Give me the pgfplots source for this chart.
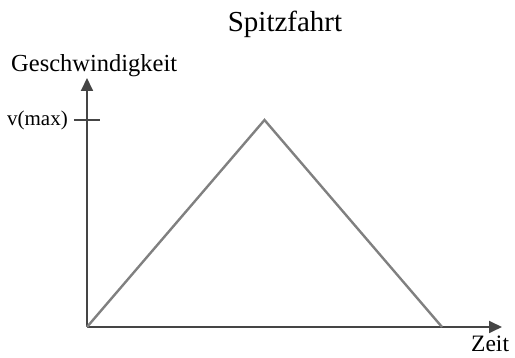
\documentclass[border=0pt]{standalone}
\usepackage{pgfplots}
\pgfplotsset{compat=1.18}
\usepackage{fontspec}
\setmainfont{Liberation Serif}
\usetikzlibrary{arrows.meta}
\definecolor{axgray}{HTML}{454545}
\definecolor{trigray}{HTML}{808080}
\begin{document}
\begin{tikzpicture}
\begin{axis}[
  scale only axis,
  width=415pt, height=249pt,
  xmin=0, xmax=2.338, ymin=0, ymax=1.203,
  axis lines=left,
  axis line style={draw=axgray, line width=1.8pt, -{Triangle[length=13pt,width=12pt]}},
  xtick=\empty,
  ytick={1},
  yticklabels={v(max)},
  tick align=center,
  major tick length=26pt,
  tick style={draw=axgray, line width=1.5pt},
  yticklabel style={font=\fontsize{21}{24}\selectfont, anchor=east, inner sep=0pt, xshift=-6pt},
  clip=false,
]
\addplot[draw=trigray, line width=2.4pt, line join=miter] coordinates {(0,0) (1,1) (2,0)};
\coordinate (O) at (axis cs:0,0);
\end{axis}
\path (O) ++(-87pt,-31pt) rectangle ++(515pt,358pt);
\node[anchor=base, inner sep=0pt, font=\fontsize{29}{33}\selectfont] at ([shift={(198pt,295pt)}]O) {Spitzfahrt};
\node[anchor=base west, inner sep=0pt, font=\fontsize{24.5}{29}\selectfont] at ([shift={(-76pt,255pt)}]O) {Geschwindigkeit};
\node[anchor=base west, inner sep=0pt, font=\fontsize{23.5}{28}\selectfont] at ([shift={(384pt,-25pt)}]O) {Zeit};
\end{tikzpicture}
\end{document}
